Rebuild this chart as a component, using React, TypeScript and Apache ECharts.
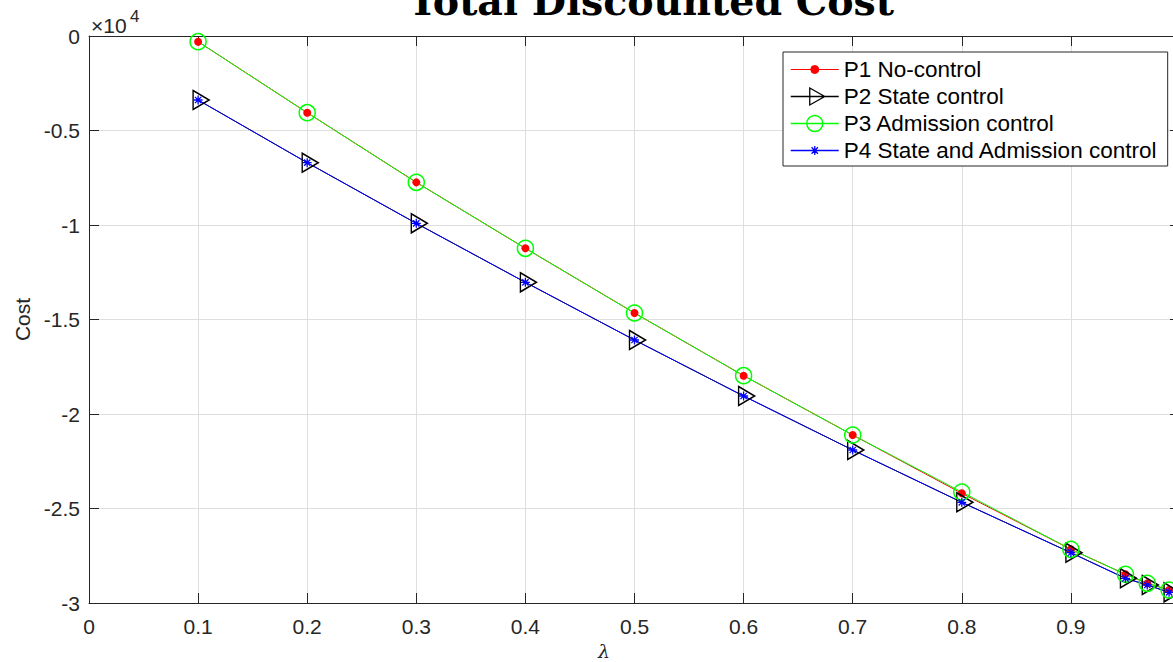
import React, { useEffect, useRef } from "react";
import * as echarts from "echarts";

const lambda = [0.1, 0.2, 0.3, 0.4, 0.5, 0.6, 0.7, 0.8, 0.9, 0.95, 0.97, 0.99];
const p1NoControl = [-300, -4058, -7743, -11233, -14656, -17972, -21111, -24196, -27159, -28481, -28960, -29312];
const p2StateControl = [-3386, -6702, -9912, -13033, -16085, -19048, -21905, -24672, -27339, -28693, -29048, -29435];
const p3AdmissionControl = [-300, -4058, -7743, -11233, -14656, -17972, -21111, -24130, -27159, -28481, -28960, -29312];
const p4StateAdmission = [-3386, -6702, -9912, -13033, -16085, -19048, -21905, -24672, -27339, -28693, -29048, -29435];

const seriesNames = [
  "P1 No-control",
  "P2 State control",
  "P3 Admission control",
  "P4 State and Admission control",
];

const FONT = "Liberation Sans";
const AXIS_COLOR = "#262626";
const GRID_COLOR = "#dedede";

const pairs = (ys: number[]) => lambda.map((x, i) => [x, ys[i]]);

const TRI = "path://M0 0 L16 9.5 L0 19 Z";
const STAR = "path://M5 0 L5 10 M0 5 L10 5 M1.5 1.5 L8.5 8.5 M1.5 8.5 L8.5 1.5";

const LEG_BOX = "M0 0 L0 0 M48 18 L48 18 M0 9 L48 9 ";
const legendIcons = [
  "path://" + LEG_BOX + "M28 9 A4 4 0 1 1 20 9 A4 4 0 1 1 28 9 Z",
  "path://" + LEG_BOX + "M19 0.5 L34 9 L19 17.5 Z",
  "path://" + LEG_BOX + "M32 9 A8 8 0 1 1 16 9 A8 8 0 1 1 32 9 Z",
  "path://" + LEG_BOX + "M24 4.5 L24 13.5 M19.5 9 L28.5 9 M20.8 5.8 L27.2 12.2 M20.8 12.2 L27.2 5.8",
];

export default function App() {
  const ref = useRef<HTMLDivElement>(null);

  useEffect(() => {
    if (!ref.current) return;
    const chart = echarts.init(ref.current, null, { renderer: "svg" });

    const xLabelFmt = (v: number) => (v === 0 ? "0" : String(Number(v.toFixed(1))));
    const yLabelFmt = (v: number) => String(Number((v / 10000).toFixed(1)));

    const baseX = {
      type: "value",
      min: 0,
      max: 1,
      interval: 0.1,
      axisLine: { show: true, onZero: false, lineStyle: { color: AXIS_COLOR, width: 1 } },
      axisTick: { show: true, inside: true, length: 10, lineStyle: { color: AXIS_COLOR, width: 1 } },
    };
    const baseY = {
      type: "value",
      min: -30000,
      max: 0,
      interval: 5000,
      axisLine: { show: true, onZero: false, lineStyle: { color: AXIS_COLOR, width: 1 } },
      axisTick: { show: true, inside: true, length: 10, lineStyle: { color: AXIS_COLOR, width: 1 } },
    };

    const option: any = {
      animation: false,
      backgroundColor: "#ffffff",
      textStyle: { fontFamily: FONT },
      grid: {
        left: 89,
        top: 36,
        right: -7,
        bottom: 59,
        containLabel: false,
        outerBoundsMode: "none",
      },
      xAxis: [
        {
          ...baseX,
          position: "bottom",
          axisLabel: {
            fontSize: 21,
            color: AXIS_COLOR,
            fontFamily: FONT,
            margin: 13,
            formatter: xLabelFmt,
            showMaxLabel: false,
          },
          splitLine: { show: true, lineStyle: { color: GRID_COLOR, width: 1 } },
        },
        {
          ...baseX,
          position: "top",
          axisLabel: { show: false },
          splitLine: { show: false },
        },
      ],
      yAxis: [
        {
          ...baseY,
          position: "left",
          name: "Cost",
          nameLocation: "middle",
          nameGap: 55,
          nameTextStyle: { fontSize: 21, color: AXIS_COLOR, fontFamily: FONT },
          axisLabel: { fontSize: 21, color: AXIS_COLOR, fontFamily: FONT, margin: 9, formatter: yLabelFmt },
          splitLine: { show: true, lineStyle: { color: GRID_COLOR, width: 1 } },
        },
        {
          ...baseY,
          position: "right",
          axisLabel: { show: false },
          splitLine: { show: false },
        },
      ],
      legend: {
        orient: "vertical",
        left: 783,
        top: 52,
        padding: [6, 10, 4, 7],
        itemGap: 4,
        itemWidth: 48,
        itemHeight: 18,
        backgroundColor: "#ffffff",
        borderColor: AXIS_COLOR,
        borderWidth: 1,
        borderRadius: 0,
        selectedMode: false,
        textStyle: { fontSize: 22.5, color: "#000000", fontFamily: FONT },
        data: [
          { name: seriesNames[0], icon: legendIcons[0], itemStyle: { color: "#ff0000", borderColor: "#ff0000", borderWidth: 1 } },
          { name: seriesNames[1], icon: legendIcons[1], itemStyle: { color: "rgba(0,0,0,0)", borderColor: "#000000", borderWidth: 1.3 } },
          { name: seriesNames[2], icon: legendIcons[2], itemStyle: { color: "rgba(0,0,0,0)", borderColor: "#00ff00", borderWidth: 1.5 } },
          { name: seriesNames[3], icon: legendIcons[3], itemStyle: { color: "rgba(0,0,0,0)", borderColor: "#0000ff", borderWidth: 1.3 } },
        ],
      },
      series: [
        {
          name: seriesNames[0],
          type: "line",
          data: pairs(p1NoControl),
          symbol: "circle",
          symbolSize: 8,
          showAllSymbol: true,
          lineStyle: { color: "#ff0000", width: 1 },
          itemStyle: { color: "#ff0000", borderWidth: 0 },
          emphasis: { disabled: true },
        },
        {
          name: seriesNames[1],
          type: "line",
          data: pairs(p2StateControl),
          symbol: TRI,
          symbolSize: [16, 19],
          symbolOffset: [3, 0],
          symbolKeepAspect: false,
          showAllSymbol: true,
          lineStyle: { color: "#000000", width: 1 },
          itemStyle: { color: "rgba(0,0,0,0)", borderColor: "#000000", borderWidth: 1.5 },
          emphasis: { disabled: true },
        },
        {
          name: seriesNames[2],
          type: "line",
          data: pairs(p3AdmissionControl),
          symbol: "circle",
          symbolSize: 16,
          showAllSymbol: true,
          lineStyle: { color: "#00ff00", width: 1 },
          itemStyle: { color: "rgba(0,0,0,0)", borderColor: "#00ff00", borderWidth: 1.5 },
          emphasis: { disabled: true },
        },
        {
          name: seriesNames[3],
          type: "line",
          data: pairs(p4StateAdmission),
          symbol: STAR,
          symbolSize: 9,
          showAllSymbol: true,
          lineStyle: { color: "#0000ff", width: 1 },
          itemStyle: { color: "rgba(0,0,0,0)", borderColor: "#0000ff", borderWidth: 1.3 },
          emphasis: { disabled: true },
        },
      ],
      graphic: [
        {
          type: "text",
          style: {
            x: 651,
            y: 0.5,
            text: "Total Discounted Cost",
            fontFamily: "DejaVu Serif",
            fontWeight: "bold",
            fontSize: 39.5,
            fill: "#000000",
            align: "center",
            verticalAlign: "middle",
          },
        },
        {
          type: "text",
          style: {
            x: 91,
            y: 25.5,
            text: "×10",
            fontFamily: FONT,
            fontSize: 21,
            fill: AXIS_COLOR,
            align: "left",
            verticalAlign: "middle",
          },
        },
        {
          type: "text",
          style: {
            x: 130,
            y: 16.5,
            text: "4",
            fontFamily: FONT,
            fontSize: 17,
            fill: AXIS_COLOR,
            align: "left",
            verticalAlign: "middle",
          },
        },
        {
          type: "text",
          style: {
            x: 604,
            y: 651,
            text: "λ",
            fontFamily: "DejaVu Serif",
            fontStyle: "italic",
            fontSize: 19,
            fill: AXIS_COLOR,
            align: "center",
            verticalAlign: "middle",
          },
        },
      ],
    };

    chart.setOption(option);
    return () => chart.dispose();
  }, []);

  return (
    <div
      ref={ref}
      style={{ position: "fixed", left: 0, top: 0, width: 1173, height: 662, background: "#fff" }}
    />
  );
}
